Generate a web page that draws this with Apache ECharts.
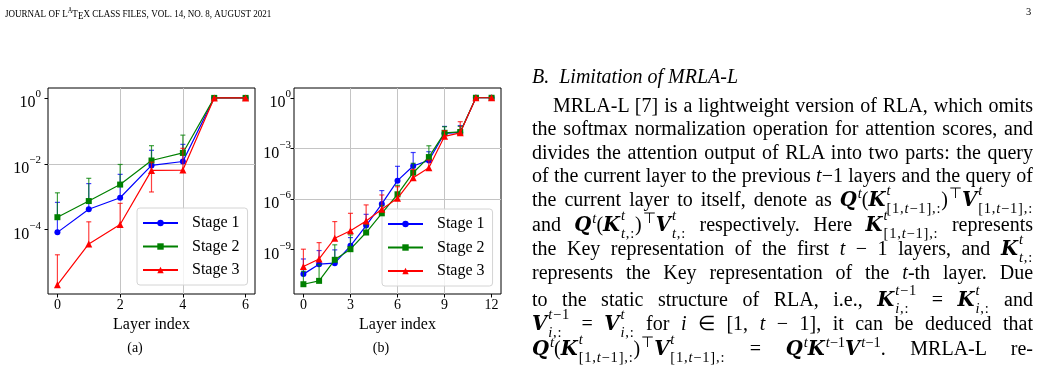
<!DOCTYPE html>
<html>
<head>
<meta charset="utf-8">
<title>Layer attention scores</title>
<script src="https://cdn.jsdelivr.net/npm/echarts@6.0.0/dist/echarts.min.js"></script>
<style>
	body { margin: 0; background: #fff; }
	#page { position: relative; width: 1043px; height: 369px; overflow: hidden; }
	#chart { position: absolute; left: 0; top: 0; width: 1043px; height: 369px; }
	.txt { position: absolute; left: 532px; width: 501px; font-family: 'Liberation Serif', serif; font-size: 20px;
		line-height: 40px; color: #000; text-align: justify; text-align-last: justify; }
	.head { text-align: left; text-align-last: left; font-style: italic; }
	.bm { font-family: 'DejaVu Serif', serif; font-size: 19.5px; font-weight: bold; font-style: italic; }
	.mi { font-style: italic; }
	.sp { font-size: 14.5px; line-height: 14px; vertical-align: 8px; padding-left: 1px; }
	.ss { display: inline-block; font-size: 14.5px; line-height: 18px; vertical-align: -7px; text-align: left;
		text-align-last: left; letter-spacing: 0.8px; padding-left: 1px; }
	.ss > span { display: block; }
</style>
</head>
<body>
<div id="page">
	<div id="chart"></div>
	<div class="txt head" style="top:56px;">B.&nbsp; Limitation of MRLA-L</div>
	<div class="txt" style="top:85px;left:553px;width:480px;">MRLA-L [7] is a lightweight version of RLA, which omits</div>
	<div class="txt" style="top:108px;">the softmax normalization operation for attention scores, and</div>
	<div class="txt" style="top:131.5px;">divides the attention output of RLA into two parts: the query</div>
	<div class="txt" style="top:155px;">of the current layer to the previous <span class="mi">t</span>−1 layers and the query of</div>
	<div class="txt" style="top:179px;">the current layer to itself, denote as <span class="bm">Q</span><span class="sp"><span class="mi">t</span></span>(<span class="bm">K</span><span class="ss"><span class="mi">t</span><span>[1,<span class="mi">t</span>−1],:</span></span>)<span class="sp">⊤</span><span class="bm">V</span><span class="ss"><span class="mi">t</span><span>[1,<span class="mi">t</span>−1],:</span></span></div>
	<div class="txt" style="top:204px;">and <span class="bm">Q</span><span class="sp"><span class="mi">t</span></span>(<span class="bm">K</span><span class="ss"><span class="mi">t</span><span><span class="mi">t</span>,:</span></span>)<span class="sp">⊤</span><span class="bm">V</span><span class="ss"><span class="mi">t</span><span><span class="mi">t</span>,:</span></span> respectively. Here <span class="bm">K</span><span class="ss"><span class="mi">t</span><span>[1,<span class="mi">t</span>−1],:</span></span> represents</div>
	<div class="txt" style="top:228px;">the Key representation of the first <span class="mi">t</span> − 1 layers, and <span class="bm">K</span><span class="ss"><span class="mi">t</span><span><span class="mi">t</span>,:</span></span></div>
	<div class="txt" style="top:252px;">represents the Key representation of the <span class="mi">t</span>-th layer. Due</div>
	<div class="txt" style="top:279px;">to the static structure of RLA, i.e., <span class="bm">K</span><span class="ss"><span><span class="mi">t</span>−1</span><span><span class="mi">i</span>,:</span></span> = <span class="bm">K</span><span class="ss"><span class="mi">t</span><span><span class="mi">i</span>,:</span></span> and</div>
	<div class="txt" style="top:303px;"><span class="bm">V</span><span class="ss"><span><span class="mi">t</span>−1</span><span><span class="mi">i</span>,:</span></span> = <span class="bm">V</span><span class="ss"><span class="mi">t</span><span><span class="mi">i</span>,:</span></span> for <span class="mi">i</span> ∈ [1, <span class="mi">t</span> − 1], it can be deduced that</div>
	<div class="txt" style="top:328px;"><span class="bm">Q</span><span class="sp"><span class="mi">t</span></span>(<span class="bm">K</span><span class="ss"><span class="mi">t</span><span>[1,<span class="mi">t</span>−1],:</span></span>)<span class="sp">⊤</span><span class="bm">V</span><span class="ss"><span class="mi">t</span><span>[1,<span class="mi">t</span>−1],:</span></span> = <span class="bm">Q</span><span class="sp"><span class="mi">t</span></span><span class="bm">K</span><span class="sp"><span class="mi">t</span>−1</span><span class="bm">V</span><span class="sp"><span class="mi">t</span>−1</span>. MRLA-L re-</div>
</div>
<script>
// values are log10 of the score
var layersA = [0, 1, 2, 3, 4, 5, 6];
var stage1A = [-4.08, -3.38, -3.03, -2.05, -1.93, 0, 0];
var stage1ATop = [-3.17, -2.60, -2.32, -1.59, -1.41, null, null];
var stage2A = [-3.62, -3.13, -2.63, -1.90, -1.67, 0, 0];
var stage2ATop = [-2.88, -2.44, -2.02, -1.45, -1.13, null, null];
var stage3A = [-5.67, -4.43, -3.84, -2.20, -2.19, 0, 0];
var stage3ATop = [-4.76, -3.76, -3.20, -1.95, -1.53, null, null];

var layersB = [0, 1, 2, 3, 4, 5, 6, 7, 8, 9, 10, 11, 12];
var stage1B = [-10.47, -9.88, -9.82, -8.79, -7.59, -6.30, -4.92, -4.05, -3.72, -2.11, -2.06, 0, 0];
var stage1BTop = [-9.57, -9.07, -9.03, -8.30, -6.92, -5.51, -4.07, -3.25, -3.20, -1.70, -1.65, null, null];
var stage2B = [-11.07, -10.87, -9.62, -8.99, -8.00, -6.86, -5.73, -4.45, -3.52, -2.08, -2.03, 0, 0];
var stage2BTop = [-10.30, -9.90, -8.73, -8.14, -7.50, -6.40, -5.20, -3.89, -2.85, -1.72, -1.70, null, null];
var stage3B = [-10.02, -9.57, -8.34, -7.89, -7.31, -6.62, -5.97, -4.75, -4.15, -2.29, -2.08, 0, 0];
var stage3BTop = [-8.99, -8.60, -7.35, -6.86, -6.36, -5.77, -5.28, -4.25, -3.70, -1.95, -1.42, null, null];

var ticksXA = [0, 2, 4, 6];
var ticksYA = [-4, -2, 0];
var ticksXB = [0, 3, 6, 9, 12];
var ticksYB = [-9, -6, -3, 0];

var stageNames = ['Stage 1', 'Stage 2', 'Stage 3'];
var colors = ['#0000ff', '#008000', '#ff0000'];
var symbols = ['circle', 'rect', 'triangle'];
var symbolSizes = [6, 6, 7];
var serif = 'Liberation Serif';

function powLabel(v) {
	if (Math.abs(v - Math.round(v)) > 1e-6) return '';
	var e = Math.round(v);
	return '{b|10}{s|' + (e < 0 ? '\u2212' + (-e) : e) + '}';
}

function lineSeries(k, xs, ys, axis) {
	var data = [];
	for (var i = 0; i < xs.length; i++) data.push([xs[i], ys[i]]);
	return {
		type: 'line', name: stageNames[k], xAxisIndex: axis, yAxisIndex: axis,
		data: data, symbol: symbols[k], symbolSize: symbolSizes[k], showSymbol: true,
		itemStyle: {color: colors[k]}, lineStyle: {color: colors[k], width: 1.2},
		z: 3 + k * 2, animation: false
	};
}

function errSeries(k, xs, ys, tops, axis) {
	var data = [];
	for (var i = 0; i < xs.length; i++) {
		if (tops[i] != null) data.push([xs[i], ys[i], tops[i]]);
	}
	var col = colors[k];
	return {
		type: 'custom', name: stageNames[k] + ' err', xAxisIndex: axis, yAxisIndex: axis,
		data: data, z: 2 + k * 2, animation: false, silent: true,
		renderItem: function (params, api) {
			var x = api.value(0), v = api.value(1), t = api.value(2);
			var p0 = api.coord([x, v]);
			var p1 = api.coord([x, t]);
			var st = {stroke: col, lineWidth: 1.2, opacity: 0.75};
			var kids = [
				{type: 'line', shape: {x1: p0[0], y1: p0[1], x2: p1[0], y2: p1[1]}, style: st},
				{type: 'line', shape: {x1: p1[0] - 2.5, y1: p1[1], x2: p1[0] + 2.5, y2: p1[1]}, style: st}
			];
			// symmetric error in linear space, lower half only if still positive
			var lo = 2 * Math.pow(10, v) - Math.pow(10, t);
			if (lo > 0) {
				var p2 = api.coord([x, Math.log10(lo)]);
				kids.push({type: 'line', shape: {x1: p0[0], y1: p0[1], x2: p2[0], y2: p2[1]}, style: st});
				kids.push({type: 'line', shape: {x1: p2[0] - 2.5, y1: p2[1], x2: p2[0] + 2.5, y2: p2[1]}, style: st});
			}
			return {type: 'group', children: kids};
		}
	};
}

function xAxisDef(idx, min, max, step, ticks) {
	return {
		type: 'value', gridIndex: idx, min: min, max: max, minInterval: step, maxInterval: step,
		name: 'Layer index', nameLocation: 'middle', nameGap: 20,
		nameTextStyle: {fontFamily: serif, fontSize: 16, color: '#000'},
		axisLine: {show: false, onZero: false},
		axisTick: {show: true, inside: false, length: 3.5, customValues: ticks, lineStyle: {color: '#000', width: 1}},
		axisLabel: {show: true, customValues: ticks, margin: 4, fontFamily: serif, fontSize: 14, color: '#000',
			formatter: function (v) { return ticks.indexOf(v) >= 0 ? String(v) : ''; }},
		splitLine: {show: true, showMinLine: false, showMaxLine: false, lineStyle: {color: '#c4c4c4', width: 1}}
	};
}

function yAxisDef(idx, min, max, step, ticks, margin) {
	return {
		type: 'value', gridIndex: idx, min: min, max: max, minInterval: step, maxInterval: step,
		axisLine: {show: false, onZero: false},
		axisTick: {show: true, inside: false, length: 3.5, customValues: ticks, lineStyle: {color: '#000', width: 1}},
		axisLabel: {show: true, customValues: ticks, margin: margin, color: '#000', padding: [4, 0, 0, 0],
			formatter: powLabel,
			rich: {
				b: {fontFamily: serif, fontSize: 16, lineHeight: 22, verticalAlign: 'bottom', color: '#000'},
				s: {fontFamily: serif, fontSize: 11, lineHeight: 12, verticalAlign: 'top', color: '#000'}
			}},
		splitLine: {show: true, showMinLine: false, showMaxLine: false, lineStyle: {color: '#c4c4c4', width: 1}}
	};
}

function legendDef(left, top) {
	return {
		left: left, top: top, orient: 'vertical', selectedMode: false,
		data: stageNames, itemWidth: 35, itemHeight: 8, itemGap: 7.5,
		padding: [7, 8, 7, 5],
		backgroundColor: 'rgba(255,255,255,0.8)', borderColor: '#d4d4d4', borderWidth: 1, borderRadius: 3,
		textStyle: {fontFamily: serif, fontSize: 16, lineHeight: 16, color: '#000', padding: [0, 0, 0, 9]}
	};
}

var chart = echarts.init(document.getElementById('chart'), null, {renderer: 'canvas'});

var series = [];
var setsA = [[stage1A, stage1ATop], [stage2A, stage2ATop], [stage3A, stage3ATop]];
var setsB = [[stage1B, stage1BTop], [stage2B, stage2BTop], [stage3B, stage3BTop]];
for (var k = 0; k < 3; k++) {
	series.push(errSeries(k, layersA, setsA[k][0], setsA[k][1], 0));
	series.push(lineSeries(k, layersA, setsA[k][0], 0));
	series.push(errSeries(k, layersB, setsB[k][0], setsB[k][1], 1));
	series.push(lineSeries(k, layersB, setsB[k][0], 1));
}

var option = {
	backgroundColor: '#fff',
	animation: false,
	grid: [
		{left: 48, top: 88, width: 207, height: 206, show: true, borderColor: '#000', borderWidth: 1,
			backgroundColor: 'transparent', outerBoundsMode: 'none'},
		{left: 294, top: 88, width: 207, height: 206, show: true, borderColor: '#000', borderWidth: 1,
			backgroundColor: 'transparent', outerBoundsMode: 'none'}
	],
	xAxis: [
		xAxisDef(0, -0.3, 6.3, 2, ticksXA),
		xAxisDef(1, -0.6, 12.6, 3, ticksXB)
	],
	yAxis: [
		yAxisDef(0, -5.95, 0.30, 2, ticksYA, 7),
		yAxisDef(1, -11.65, 0.58, 3, ticksYB, 3)
	],
	legend: [legendDef(137, 208), legendDef(382, 209)],
	graphic: [
		{type: 'text', left: 5, top: 7, scaleX: 0.86, style: {
			text: 'JOURNAL OF L{la|A}T{le|E}X CLASS FILES, VOL. 14, NO. 8, AUGUST 2021',
			fontFamily: serif, fontSize: 10.5, fill: '#000',
			rich: {
				la: {fontFamily: serif, fontSize: 7.5, verticalAlign: 'top', lineHeight: 8},
				le: {fontFamily: serif, fontSize: 10.5, verticalAlign: 'bottom', padding: [4, 0, 0, 0]}
			}}},
		{type: 'text', left: 1026, top: 7, style: {text: '3', fontFamily: serif, fontSize: 10.5, fill: '#000'}},
		{type: 'text', x: 135, y: 348, style: {text: '(a)', fontFamily: serif, fontSize: 14, fill: '#000',
			align: 'center', verticalAlign: 'middle'}},
		{type: 'text', x: 381, y: 348, style: {text: '(b)', fontFamily: serif, fontSize: 14, fill: '#000',
			align: 'center', verticalAlign: 'middle'}}
	],
	series: series
};

chart.setOption(option);
</script>
</body>
</html>
